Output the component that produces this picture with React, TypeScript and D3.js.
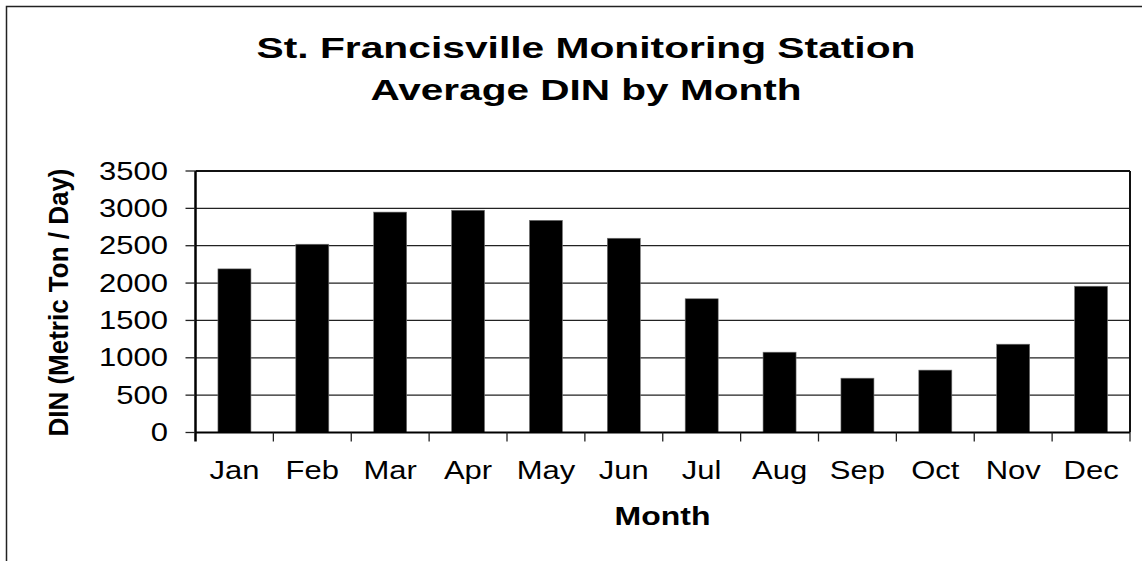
import React, { useEffect, useRef } from 'react';
import * as d3 from 'd3';

const months = ["Jan", "Feb", "Mar", "Apr", "May", "Jun", "Jul", "Aug", "Sep", "Oct", "Nov", "Dec"];
const dinValues = [2190, 2520, 2950, 2975, 2840, 2600, 1790, 1075, 727, 835, 1182, 1958];
const yTicks = [0, 500, 1000, 1500, 2000, 2500, 3000, 3500];
const titleLines = ["St. Francisville Monitoring Station", "Average DIN by Month"];

const FONT = "'Liberation Sans', Arial, sans-serif";
const SX = 1.24; // labels in the reference are a little wide

const App = () => {
  const svgRef = useRef<SVGSVGElement>(null);

  useEffect(() => {
    if (!svgRef.current) return;
    const svg = d3.select(svgRef.current);
    svg.selectAll("*").remove();

    const width = 1142;
    const height = 561;
    const plot = { left: 195.5, right: 1130, top: 171, bottom: 432.5 };

    svg.attr("width", width).attr("height", height);

    svg.append("rect").attr("width", width).attr("height", height).attr("fill", "#fff");

    // outer chart border (right/bottom fall outside the picture)
    svg.append("rect")
      .attr("x", 6.5).attr("y", 6.5)
      .attr("width", 1300).attr("height", 800)
      .attr("fill", "none").attr("stroke", "#222").attr("stroke-width", 1.5);

    // title
    const titleY = [58, 100];
    const titleLen = [659, 431];
    titleLines.forEach((t, i) => {
      svg.append("text")
        .attr("x", 586).attr("y", titleY[i])
        .attr("text-anchor", "middle")
        .attr("font-family", FONT)
        .attr("font-size", "30px")
        .attr("font-weight", "bold")
        .attr("textLength", titleLen[i])
        .attr("lengthAdjust", "spacingAndGlyphs")
        .attr("fill", "#000")
        .text(t);
    });

    // scales
    const xCat = d3.scaleBand<string>().domain(months).range([plot.left, plot.right]).padding(0);
    const xBar = d3.scaleBand<string>().domain(months).range([plot.left, plot.right])
      .paddingInner(0.576).paddingOuter(0.288);
    const y = d3.scaleLinear().domain([0, 3500]).range([plot.bottom, plot.top]);

    // gridlines
    svg.append("g").selectAll("line")
      .data(yTicks.filter(d => d > 0 && d < 3500))
      .enter().append("line")
      .attr("x1", plot.left).attr("x2", plot.right)
      .attr("y1", d => y(d)).attr("y2", d => y(d))
      .attr("stroke", "#222").attr("stroke-width", 1.3);

    // plot frame top & right
    svg.append("line")
      .attr("x1", plot.left).attr("x2", plot.right)
      .attr("y1", plot.top).attr("y2", plot.top)
      .attr("stroke", "#111").attr("stroke-width", 2);
    svg.append("line")
      .attr("x1", plot.right).attr("x2", plot.right)
      .attr("y1", plot.top).attr("y2", plot.bottom)
      .attr("stroke", "#111").attr("stroke-width", 2);

    // bars
    svg.append("g").selectAll("rect")
      .data(dinValues)
      .enter().append("rect")
      .attr("x", (d, i) => xBar(months[i]) as number)
      .attr("y", d => y(d))
      .attr("width", xBar.bandwidth())
      .attr("height", d => plot.bottom - y(d))
      .attr("fill", "#000")
      .attr("stroke", "#777")
      .attr("stroke-width", 0.6);

    // y axis
    svg.append("line")
      .attr("x1", plot.left).attr("x2", plot.left)
      .attr("y1", plot.top).attr("y2", plot.bottom + 9)
      .attr("stroke", "#000").attr("stroke-width", 2.5);
    yTicks.forEach(t => {
      svg.append("line")
        .attr("x1", plot.left - 10).attr("x2", plot.left)
        .attr("y1", y(t)).attr("y2", y(t))
        .attr("stroke", "#222").attr("stroke-width", 1.3);
      svg.append("text")
        .attr("transform", `translate(168, ${y(t) + 8.7}) scale(${SX}, 1)`)
        .attr("text-anchor", "end")
        .attr("font-family", FONT)
        .attr("font-size", "25px")
        .attr("fill", "#000")
        .text(t);
    });

    // x axis
    svg.append("line")
      .attr("x1", plot.left).attr("x2", plot.right)
      .attr("y1", plot.bottom).attr("y2", plot.bottom)
      .attr("stroke", "#000").attr("stroke-width", 2.2);
    months.forEach((m, i) => {
      const x0 = (xCat(m) as number) + xCat.bandwidth();
      svg.append("line")
        .attr("x1", x0).attr("x2", x0)
        .attr("y1", plot.bottom).attr("y2", plot.bottom + 9)
        .attr("stroke", "#222").attr("stroke-width", 1.3);
      svg.append("text")
        .attr("transform", `translate(${(xCat(m) as number) + xCat.bandwidth() / 2}, 479) scale(${SX}, 1)`)
        .attr("text-anchor", "middle")
        .attr("font-family", FONT)
        .attr("font-size", "25px")
        .attr("fill", "#000")
        .text(m);
    });

    // axis titles
    svg.append("text")
      .attr("transform", `translate(662.5, 525) scale(1.23, 1)`)
      .attr("text-anchor", "middle")
      .attr("font-family", FONT)
      .attr("font-size", "26px")
      .attr("font-weight", "bold")
      .attr("fill", "#000")
      .text("Month");

    svg.append("text")
      .attr("transform", "translate(68, 302.5) rotate(-90)")
      .attr("text-anchor", "middle")
      .attr("font-family", FONT)
      .attr("font-size", "28px")
      .attr("font-weight", "bold")
      .attr("textLength", 268)
      .attr("lengthAdjust", "spacingAndGlyphs")
      .attr("fill", "#000")
      .text("DIN (Metric Ton / Day)");
  }, []);

  return (
    <svg ref={svgRef} style={{ position: 'absolute', left: 0, top: 0, display: 'block' }}></svg>
  );
};

export default App;
